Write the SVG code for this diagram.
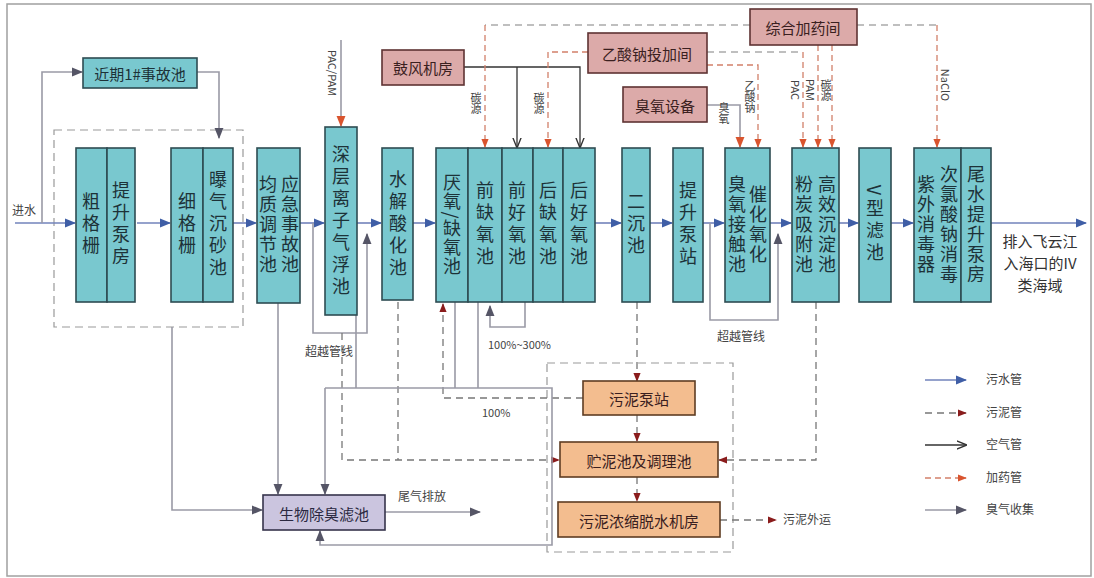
<svg xmlns="http://www.w3.org/2000/svg" width="1094" height="578" viewBox="0 0 1094 578">
<style>
.bx{fill:#79c8cf;stroke:#2e4c52;stroke-width:1.6}
.pk{fill:#dcaaa9;stroke:#5e3232;stroke-width:1.6}
.og{fill:#f3bd8f;stroke:#5e3c22;stroke-width:1.6}
.pu{fill:#cbc5df;stroke:#36344c;stroke-width:1.6}
.v{font-family:"Noto Sans CJK SC","Noto Sans",sans-serif;font-size:18px;fill:#1d3238;writing-mode:vertical-rl;text-anchor:middle;letter-spacing:4px}
.h{font-family:"Noto Sans CJK SC","Noto Sans",sans-serif;font-size:15px;fill:#3a2020;text-anchor:middle;dominant-baseline:central}
.s{font-family:"Noto Sans CJK SC","Noto Sans",sans-serif;font-size:12px;fill:#444}
.sv{font-family:"Noto Sans CJK SC","Noto Sans",sans-serif;font-size:11px;fill:#444;writing-mode:vertical-rl;text-anchor:middle}
.fl{fill:none;stroke:#7283bb;stroke-width:1.6}
.air{fill:none;stroke:#333;stroke-width:1.3}
.dr{fill:none;stroke:#d2806a;stroke-width:1.3;stroke-dasharray:6 4}
.gd{fill:none;stroke:#aaa;stroke-width:1.3;stroke-dasharray:7 5}
.sl{fill:none;stroke:#777;stroke-width:1.3;stroke-dasharray:7 5}
.gas{fill:none;stroke:#9a9aa6;stroke-width:1.6}
.frm{fill:none;stroke:#999;stroke-width:1.2;stroke-dasharray:8 5}
</style>
<defs>
<marker id="mB" viewBox="0 0 10 10" refX="9" refY="5" markerWidth="7" markerHeight="7" orient="auto"><path d="M0,1 L10,5 L0,9 z" fill="#3f5ea6"/></marker>
<marker id="mR" viewBox="0 0 10 10" refX="9" refY="5" markerWidth="7" markerHeight="7" orient="auto"><path d="M0,1 L10,5 L0,9 z" fill="#8a1c1c"/></marker>
<marker id="mD" viewBox="0 0 10 10" refX="9" refY="5" markerWidth="7" markerHeight="7" orient="auto"><path d="M0,1 L10,5 L0,9 z" fill="#d9542e"/></marker>
<marker id="mA" viewBox="0 0 10 10" refX="9" refY="5" markerWidth="8" markerHeight="8" orient="auto"><path d="M0,1 L10,5 L0,9" fill="none" stroke="#333" stroke-width="1.3"/></marker>
<marker id="mG" viewBox="0 0 10 10" refX="9" refY="5" markerWidth="7" markerHeight="7" orient="auto"><path d="M0,1 L10,5 L0,9 z" fill="#555566"/></marker>
</defs>
<rect x="0" y="0" width="1094" height="578" fill="#fff"/>
<rect x="7" y="4" width="1084" height="572" fill="none" stroke="#a0a0a0" stroke-width="1.5"/>

<g id="frames">
<rect class="frm" x="54" y="130" width="189" height="197"/>
<rect class="frm" x="547" y="363" width="186" height="189"/>
</g>

<g id="connectors">
<!-- main sewage flow -->
<path class="fl" d="M15,223 H75" marker-end="url(#mB)"/>
<path class="fl" d="M137,223 H170" marker-end="url(#mB)"/>
<path class="fl" d="M233,223 H256" marker-end="url(#mB)"/>
<path class="fl" d="M300,223 H324" marker-end="url(#mB)"/>
<path class="fl" d="M357,223 H381" marker-end="url(#mB)"/>
<path class="fl" d="M413,223 H435" marker-end="url(#mB)"/>
<path class="fl" d="M595,223 H621" marker-end="url(#mB)"/>
<path class="fl" d="M650,223 H672" marker-end="url(#mB)"/>
<path class="fl" d="M703,223 H724" marker-end="url(#mB)"/>
<path class="fl" d="M770,223 H791" marker-end="url(#mB)"/>
<path class="fl" d="M839,223 H858" marker-end="url(#mB)"/>
<path class="fl" d="M891,223 H913" marker-end="url(#mB)"/>
<path class="fl" d="M991,223 H1086" marker-end="url(#mB)"/>
<!-- emergency pool -->
<path class="gas" d="M42,223 V72 H82" marker-end="url(#mG)"/>
<path class="gas" d="M197,72 H219 V138" marker-end="url(#mG)"/>
<!-- bypasses -->
<path class="gas" d="M313,223 V333 H367 V234" marker-end="url(#mG)"/>
<path class="gas" d="M710,223 V320 H778 V234" marker-end="url(#mG)"/>
<path class="gas" d="M525,302 V327 H490 V306" marker-end="url(#mG)"/>
<!-- air -->
<path class="air" d="M464,67 H580 V147" marker-end="url(#mA)"/>
<path class="air" d="M517,67 V147" marker-end="url(#mA)"/>
<!-- chemicals -->
<path class="gd" d="M750,25 H485"/>
<path class="dr" d="M485,25 V147" marker-end="url(#mD)"/>
<path class="dr" d="M588,52 H548 V147" marker-end="url(#mD)"/>
<path class="gd" d="M707,52 H803"/>
<path class="dr" d="M803,52 V147" marker-end="url(#mD)"/>
<path class="dr" d="M707,65 H758 V147" marker-end="url(#mD)"/>
<path class="gas" d="M707,105 H740 V147" marker-end="url(#mD)"/>
<path class="dr" d="M818,45 V147" marker-end="url(#mD)"/>
<path class="dr" d="M832,45 V147" marker-end="url(#mD)"/>
<path class="gd" d="M857,25 H937"/>
<path class="dr" d="M937,25 V147" marker-end="url(#mD)"/>
<path class="gas" d="M341,40 V126" marker-end="url(#mD)"/>
<!-- sludge -->
<path class="sl" d="M637,302 V381" marker-end="url(#mR)"/>
<path class="sl" d="M637,415 V441" marker-end="url(#mR)"/>
<path class="sl" d="M637,477 V501" marker-end="url(#mR)"/>
<path class="sl" d="M583,398 H443 V304" marker-end="url(#mR)"/>
<path class="sl" d="M342,333 V460 H559" marker-end="url(#mR)"/>
<path class="sl" d="M398,302 V460"/>
<path class="sl" d="M816,302 V460 H719" marker-end="url(#mR)"/>
<path class="sl" d="M720,520 H776" marker-end="url(#mR)"/>
<!-- odour -->
<path class="gas" d="M172,327 V510 H262" marker-end="url(#mG)"/>
<path class="gas" d="M278,303 V494" marker-end="url(#mG)"/>
<path class="gas" d="M325,388 V494" marker-end="url(#mG)"/>
<path class="gas" d="M325,388 H552 V545 H320 V531" marker-end="url(#mG)"/>
<path class="gas" d="M356,315 V388 M455,302 V388 M478,302 V388"/>
<path class="gas" d="M385,512 H480" marker-end="url(#mG)"/>
</g>

<g id="n-inflow"><text class="s" x="12" y="215">进水</text></g>
<g id="n-emerg"><rect class="bx" x="83" y="58" width="114" height="30"/><text class="h" x="140" y="73" style="fill:#1d3238">近期1#事故池</text></g>
<g id="n-cugeshan"><rect class="bx" x="76" y="148" width="31" height="154"/><text class="v" x="91" y="225">粗格栅</text></g>
<g id="n-pump1"><rect class="bx" x="107" y="148" width="28" height="154"/><text class="v" x="121" y="225">提升泵房</text></g>
<g id="n-xigeshan"><rect class="bx" x="171" y="148" width="32" height="154"/><text class="v" x="187" y="225">细格栅</text></g>
<g id="n-grit"><rect class="bx" x="203" y="148" width="30" height="154"/><text class="v" x="218" y="225">曝气沉砂池</text></g>
<g id="n-equal"><rect class="bx" x="257" y="148" width="43" height="155"/><text class="v" x="268" y="225" style="letter-spacing:2px">均质调节池</text><text class="v" x="290" y="225" style="letter-spacing:2px">应急事故池</text></g>
<g id="n-float"><rect class="bx" x="325" y="127" width="32" height="188"/><text class="v" x="341" y="222">深层离子气浮池</text></g>
<g id="n-hydro"><rect class="bx" x="382" y="148" width="31" height="152"/><text class="v" x="398" y="225">水解酸化池</text></g>
<g id="n-ana"><rect class="bx" x="436" y="148" width="32" height="154"/><text class="v" x="452" y="225" style="letter-spacing:1px">厌氧/缺氧池</text></g>
<g id="n-anox1"><rect class="bx" x="468" y="148" width="34" height="154"/><text class="v" x="485" y="225">前缺氧池</text></g>
<g id="n-oxic1"><rect class="bx" x="502" y="148" width="31" height="154"/><text class="v" x="517" y="225">前好氧池</text></g>
<g id="n-anox2"><rect class="bx" x="533" y="148" width="30" height="154"/><text class="v" x="548" y="225">后缺氧池</text></g>
<g id="n-oxic2"><rect class="bx" x="563" y="148" width="32" height="154"/><text class="v" x="579" y="225">后好氧池</text></g>
<g id="n-sec"><rect class="bx" x="622" y="148" width="28" height="154"/><text class="v" x="636" y="225">二沉池</text></g>
<g id="n-pump2"><rect class="bx" x="673" y="148" width="30" height="154"/><text class="v" x="688" y="225">提升泵站</text></g>
<g id="n-ozone"><rect class="bx" x="725" y="148" width="45" height="154"/><text class="v" x="737" y="225" style="letter-spacing:2px">臭氧接触池</text><text class="v" x="758" y="225" style="letter-spacing:2px">催化氧化</text></g>
<g id="n-deep"><rect class="bx" x="792" y="148" width="47" height="154"/><text class="v" x="804" y="225" style="letter-spacing:2px">粉炭吸附池</text><text class="v" x="827" y="225" style="letter-spacing:2px">高效沉淀池</text></g>
<g id="n-vfilter"><rect class="bx" x="859" y="148" width="32" height="154"/><text class="v" x="875" y="225">V型滤池</text></g>
<g id="n-disinf"><rect class="bx" x="914" y="148" width="47" height="154"/><text class="v" x="926" y="225" style="letter-spacing:2px">紫外消毒器</text><text class="v" x="949" y="225" style="letter-spacing:2px">次氯酸钠消毒</text></g>
<g id="n-tail"><rect class="bx" x="961" y="148" width="30" height="154"/><text class="v" x="976" y="225" style="letter-spacing:2px">尾水提升泵房</text></g>
<g id="n-outlet"><text class="h" x="1040" y="240" style="fill:#333">排入飞云江</text><text class="h" x="1040" y="262" style="fill:#333">入海口的IV</text><text class="h" x="1040" y="284" style="fill:#333">类海域</text></g>

<g id="n-blower"><rect class="pk" x="382" y="50" width="82" height="35"/><text class="h" x="423" y="67">鼓风机房</text></g>
<g id="n-chem"><rect class="pk" x="750" y="9" width="107" height="36"/><text class="h" x="803" y="27">综合加药间</text></g>
<g id="n-acetate"><rect class="pk" x="588" y="33" width="119" height="40"/><text class="h" x="647" y="53">乙酸钠投加间</text></g>
<g id="n-ozgen"><rect class="pk" x="623" y="87" width="84" height="35"/><text class="h" x="665" y="105">臭氧设备</text></g>

<g id="n-sludgepump"><rect class="og" x="583" y="381" width="112" height="34"/><text class="h" x="639" y="398">污泥泵站</text></g>
<g id="n-storage"><rect class="og" x="560" y="442" width="158" height="35"/><text class="h" x="639" y="460">贮泥池及调理池</text></g>
<g id="n-dewater"><rect class="og" x="558" y="502" width="162" height="35"/><text class="h" x="639" y="520">污泥浓缩脱水机房</text></g>
<g id="n-bio"><rect class="pu" x="263" y="495" width="122" height="35"/><text class="h" x="324" y="513" style="fill:#2a2840">生物除臭滤池</text></g>

<g id="labels">
<text class="sv" x="333" y="73">PAC/PAM</text>
<text class="sv" x="476" y="103">碳源</text>
<text class="sv" x="539" y="103">碳源</text>
<text class="sv" x="724" y="113">臭氧</text>
<text class="sv" x="750" y="97">乙酸钠</text>
<text class="sv" x="796" y="90">PAC</text>
<text class="sv" x="811" y="90">PAM</text>
<text class="sv" x="826" y="90">碳源</text>
<text class="sv" x="946" y="85">NaClO</text>
<text class="s" x="305" y="356">超越管线</text>
<text class="s" x="717" y="341">超越管线</text>
<text class="s" x="488" y="349" style="font-size:11px">100%~300%</text>
<text class="s" x="482" y="417" style="font-size:11px">100%</text>
<text class="s" x="398" y="501">尾气排放</text>
<text class="s" x="783" y="524">污泥外运</text>
</g>

<g id="legend">
<path class="fl" d="M925,380 H966" marker-end="url(#mB)"/><text class="s" x="986" y="384">污水管</text>
<path class="sl" d="M925,413 H966" marker-end="url(#mR)"/><text class="s" x="986" y="417">污泥管</text>
<path class="air" d="M925,445 H966" marker-end="url(#mA)"/><text class="s" x="986" y="449">空气管</text>
<path class="dr" d="M925,478 H966" marker-end="url(#mD)"/><text class="s" x="986" y="482">加药管</text>
<path class="gas" d="M925,510 H966" marker-end="url(#mG)"/><text class="s" x="986" y="514">臭气收集</text>
</g>
</svg>
